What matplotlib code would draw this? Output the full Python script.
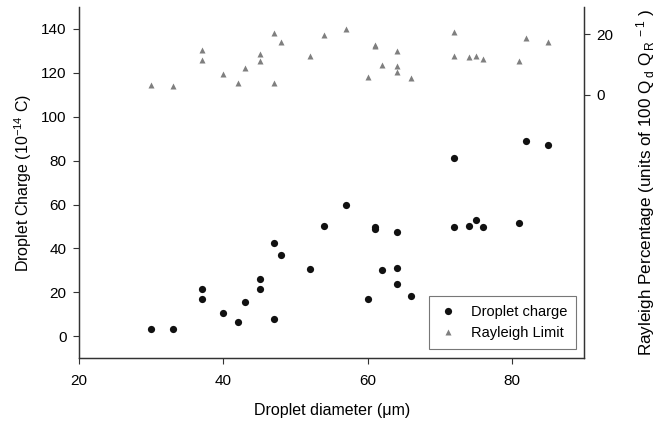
import numpy as np
import matplotlib.pyplot as plt

plt.rcParams['font.family'] = ['Liberation Sans', 'DejaVu Sans']
plt.rcParams['mathtext.default'] = 'regular'
plt.rcParams['font.size'] = 10

# droplet diameter (um) and measured charge (1e-14 C)
diameter = [30, 33, 37, 37, 40, 42, 43, 45, 45, 47, 47, 48, 52, 54, 57,
            60, 61, 61, 62, 64, 64, 64, 66, 72, 72, 74, 75, 76, 81, 82, 85]
charge = [3.4, 3.4, 21.6, 16.8, 10.6, 6.5, 15.7, 25.9, 21.6, 42.5, 7.7, 37.2, 30.7, 50.2, 59.8,
          17.1, 49.9, 48.9, 30.0, 47.4, 31.0, 23.9, 18.3, 81.1, 49.8, 50.1, 52.8, 49.8, 51.6, 89.1, 87.2]
# percentage of the Rayleigh limit for the same droplets
rayleigh = [3.3, 3.0, 14.9, 11.6, 6.7, 3.9, 8.8, 13.4, 11.1, 20.5, 3.9, 17.5, 12.9, 19.7, 21.6,
            5.8, 16.4, 16.0, 9.7, 14.5, 9.5, 7.5, 5.5, 20.7, 12.9, 12.4, 12.8, 11.9, 11.1, 18.7, 17.4]

fig = plt.figure(figsize=(6.6, 4.25), dpi=100)
ax = fig.add_axes([0.120, 0.157, 0.765, 0.827])
ax2 = ax.twinx()

h1, = ax.plot(diameter, charge, 'o', color='#111111', ms=5.2, mec='none', label='Droplet charge')
h2, = ax2.plot(diameter, rayleigh, '^', color='#7f7f7f', ms=4, mec='none', label='Rayleigh Limit')

ax.set_xlim(20, 90)
ax.set_ylim(-10, 150)
ax2.set_ylim(-87, 29)
ax.set_xticks([20, 40, 60, 80])
ax.set_yticks(np.arange(0, 141, 20))
ax2.set_yticks([0, 20])

for a in (ax, ax2):
    a.spines['top'].set_visible(False)
    for s in a.spines.values():
        s.set_color('#333333')
        s.set_linewidth(0.9)
    a.tick_params(direction='out', length=4, width=0.8, color='#333333', labelsize=11, pad=5)
ax.tick_params(axis='x', pad=7)

ax.set_xlabel('Droplet diameter (μm)', fontsize=11.5, labelpad=11)
ax.set_ylabel('Droplet Charge (10$^{-14}$ C)', fontsize=11.5, labelpad=5)
ax2.set_ylabel('Rayleigh Percentage (units of 100 Q$_{\\,d}$ Q$_{\\,R}$$^{\\,-1}$ )',
               fontsize=12.3, labelpad=15)

leg = ax2.legend(handles=[h1, h2], loc='lower right', bbox_to_anchor=(0.984, 0.026),
                 borderaxespad=0, fancybox=False, edgecolor='#555555', fontsize=10.5,
                 handletextpad=0.8, borderpad=0.6, handlelength=1.5)
leg.get_frame().set_linewidth(0.8)

fig.savefig('out.png', dpi=100)
